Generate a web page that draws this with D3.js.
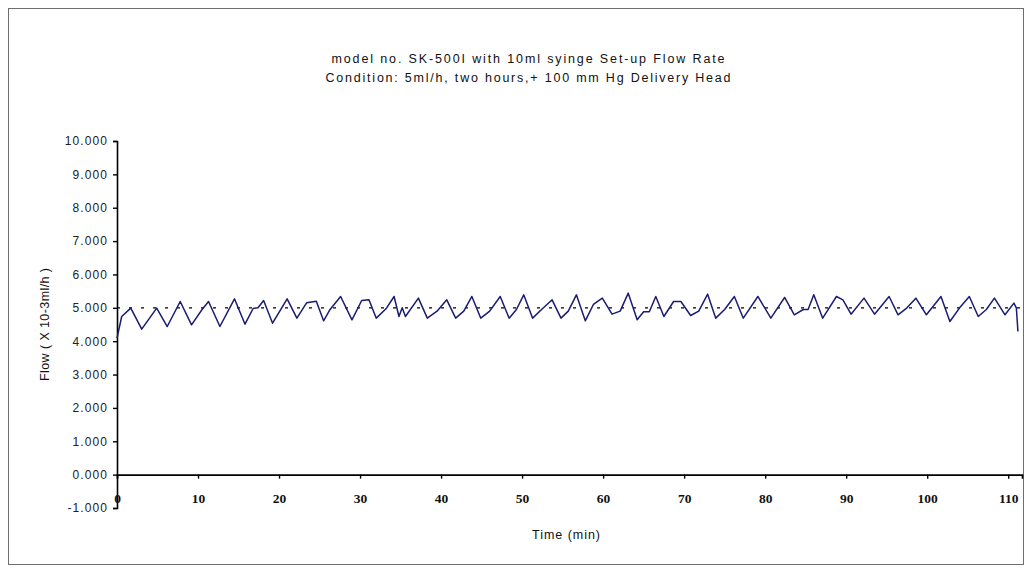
<!DOCTYPE html>
<html>
<head>
<meta charset="utf-8">
<script src="https://cdn.jsdelivr.net/npm/d3@7"></script>
<style>
  html, body { margin: 0; padding: 0; background: #fff; }
  svg { display: block; }
</style>
</head>
<body>
<svg id="chart" width="1031" height="572"></svg>
<script>
const titleLines = [
  "model no. SK-500I with 10ml syinge Set-up Flow Rate",
  "Condition: 5ml/h,  two hours,+ 100 mm Hg Delivery Head"
];
const xTitle = "Time (min)";
const yTitle = "Flow ( X 10-3ml/h )";
const xTicks = [0, 10, 20, 30, 40, 50, 60, 70, 80, 90, 100, 110];
const yTicks = [-1, 0, 1, 2, 3, 4, 5, 6, 7, 8, 9, 10];
const setRate = 5.0;
const xMax = 111.7;

const minutes = [0, 0.58, 1.7, 3.05, 4.9, 6.2, 7.8, 9.2, 10.5, 11.3, 12.7, 14.5, 15.8, 16.8, 17.4, 18.1, 19.2, 21.0, 22.2, 23.4, 24.6, 25.5, 26.3, 27.6, 29.0, 30.2, 31.1, 32.0, 33.2, 34.2, 34.8, 35.2, 35.6, 37.2, 38.3, 39.5, 40.7, 41.8, 42.8, 43.8, 44.9, 46.0, 47.3, 48.4, 49.3, 50.2, 51.3, 52.4, 53.7, 54.8, 55.7, 56.7, 57.8, 58.8, 59.9, 61.1, 62.1, 63.1, 64.2, 65.0, 65.7, 66.5, 67.5, 68.7, 69.6, 70.8, 71.8, 72.9, 73.9, 75.0, 76.2, 77.3, 79.1, 80.7, 82.4, 83.6, 84.7, 85.3, 86.0, 87.1, 88.8, 89.6, 90.6, 92.2, 93.5, 95.3, 96.4, 97.5, 98.6, 99.9, 101.7, 102.8, 104.0, 105.2, 106.3, 107.3, 108.3, 109.6, 110.7, 111.0, 111.2];
const flow = [4.09, 4.74, 4.99, 4.36, 4.99, 4.44, 5.19, 4.49, 4.95, 5.19, 4.44, 5.27, 4.51, 4.98, 5.0, 5.22, 4.54, 5.27, 4.69, 5.15, 5.2, 4.61, 4.95, 5.34, 4.64, 5.22, 5.24, 4.69, 4.97, 5.34, 4.74, 5.0, 4.74, 5.29, 4.69, 4.9, 5.24, 4.69, 4.9, 5.34, 4.69, 4.9, 5.34, 4.69, 4.95, 5.39, 4.69, 4.95, 5.24, 4.69, 4.9, 5.39, 4.61, 5.1, 5.29, 4.81, 4.9, 5.44, 4.64, 4.88, 4.88, 5.34, 4.74, 5.19, 5.19, 4.77, 4.9, 5.41, 4.69, 4.95, 5.34, 4.69, 5.34, 4.69, 5.31, 4.79, 4.95, 4.95, 5.39, 4.69, 5.34, 5.24, 4.81, 5.29, 4.81, 5.34, 4.79, 5.0, 5.29, 4.79, 5.34, 4.59, 5.0, 5.34, 4.74, 4.95, 5.29, 4.79, 5.14, 5.0, 4.29];

const svg = d3.select("#chart");

// outer frame
svg.append("rect")
  .attr("x", 8.5).attr("y", 8.5).attr("width", 1015).attr("height", 556)
  .attr("fill", "#fff").attr("stroke", "#6e6e6e").attr("stroke-width", 1);

const x = d3.scaleLinear().domain([0, xMax]).range([117, 1022]);
const y = d3.scaleLinear().domain([-1, 10]).range([508, 141]);

// titles
svg.selectAll("text.title").data(titleLines).join("text")
  .attr("class", "title")
  .attr("x", 528).attr("y", (d, i) => 63 + i * 19)
  .attr("text-anchor", "middle")
  .attr("font-family", "Liberation Sans, Arial, sans-serif")
  .attr("font-size", 12.5)
  .attr("fill", "#111")
  .attr("textLength", (d, i) => i === 0 ? 393 : 405)
  .attr("lengthAdjust", "spacing")
  .text(d => d);

// y axis
const fmt = v => d3.format(".3f")(v).replace("\u2212", "-");
const yAxis = d3.axisLeft(y).tickValues(yTicks).tickSize(4).tickPadding(6).tickFormat(fmt);
const gy = svg.append("g").attr("transform", `translate(${x(0)},0)`).call(yAxis);
gy.select(".domain").attr("stroke", "#000").attr("stroke-width", 1.6);
gy.selectAll(".tick line").attr("stroke", "#000").attr("stroke-width", 1.4);
gy.selectAll(".tick text")
  .attr("font-family", "Liberation Sans, Arial, sans-serif")
  .attr("font-size", 12)
  .attr("fill", "#222")
  .attr("letter-spacing", "1.1px")
  .attr("dx", "1.1px");

// x axis (at y = 0)
const xAxis = d3.axisBottom(x).tickValues(xTicks).tickSize(4).tickPadding(15).tickFormat(d3.format("d"));
const gx = svg.append("g").attr("transform", `translate(0,${y(0)})`).call(xAxis);
gx.select(".domain").attr("stroke", "#000").attr("stroke-width", 1.6);
gx.selectAll(".tick line").attr("stroke", "#000").attr("stroke-width", 1.4);
gx.selectAll(".tick text")
  .attr("font-family", "Liberation Serif, Times New Roman, serif")
  .attr("font-weight", "bold")
  .attr("font-size", 13.5)
  .attr("fill", "#111");

// axis titles
svg.append("text")
  .attr("x", 566).attr("y", 539)
  .attr("text-anchor", "middle")
  .attr("font-family", "Liberation Sans, Arial, sans-serif")
  .attr("font-size", 12.5)
  .attr("fill", "#111")
  .attr("textLength", 68).attr("lengthAdjust", "spacing")
  .text(xTitle);

svg.append("text")
  .attr("transform", `translate(49,${(y(-1) + y(10)) / 2}) rotate(-90)`)
  .attr("text-anchor", "middle")
  .attr("font-family", "Liberation Sans, Arial, sans-serif")
  .attr("font-size", 12.5)
  .attr("fill", "#111")
  .attr("textLength", 113).attr("lengthAdjust", "spacing")
  .text(yTitle);

// set-rate dashed line
svg.append("line")
  .attr("x1", x(0)).attr("x2", x(xMax))
  .attr("y1", y(setRate)).attr("y2", y(setRate))
  .attr("stroke", "#000").attr("stroke-width", 1.2)
  .attr("stroke-dasharray", "3,9");

// flow line
const pts = minutes.map((m, i) => [m, flow[i]]);
svg.append("path")
  .datum(pts)
  .attr("fill", "none")
  .attr("stroke", "#1b1b72")
  .attr("stroke-width", 1.5)
  .attr("stroke-linejoin", "round")
  .attr("d", d3.line().x(d => x(d[0])).y(d => y(d[1])));
</script>
</body>
</html>
